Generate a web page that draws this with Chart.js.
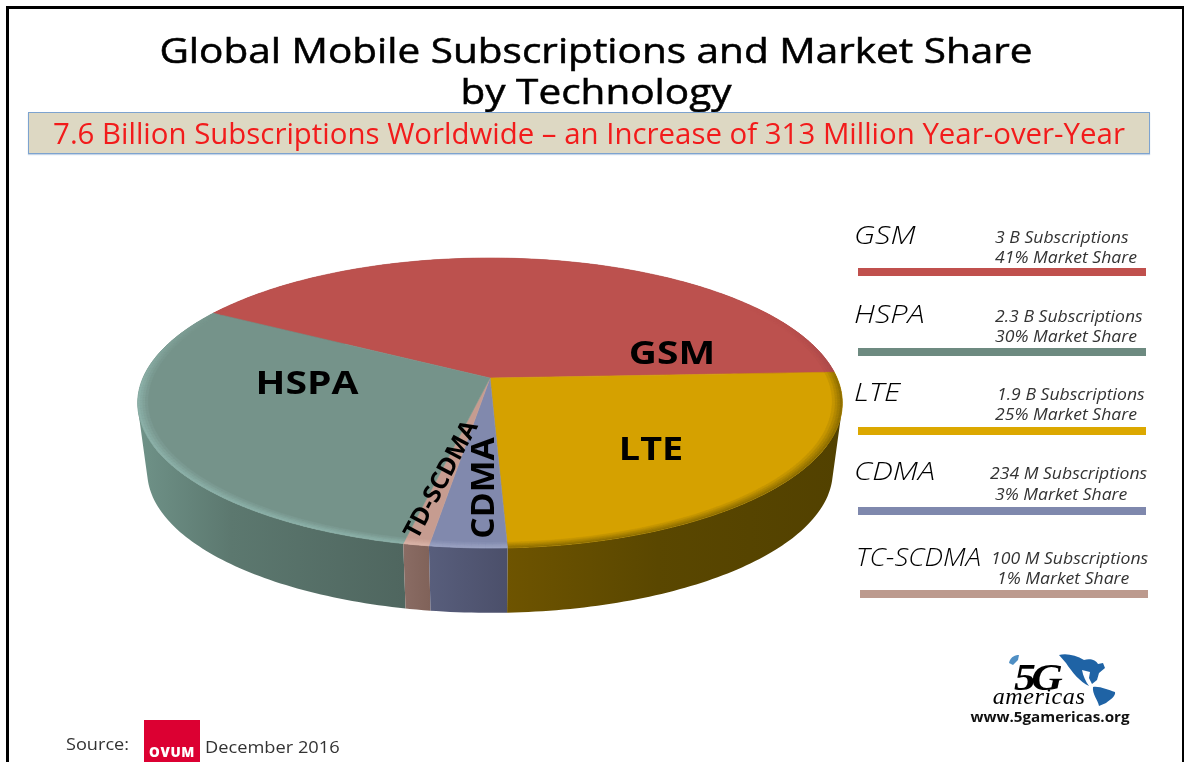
<!DOCTYPE html>
<html><head><meta charset="utf-8">
<script src="https://cdn.jsdelivr.net/npm/chart.js@4/dist/chart.umd.js"></script>
<style>
html,body{margin:0;padding:0;background:#fff;width:1184px;height:762px;overflow:hidden}
#stage{position:relative;width:1184px;height:762px;overflow:hidden;font-family:"Open Sans",sans-serif;color:#000;filter:blur(0.4px)}
#stage canvas{position:absolute;left:0;top:0}
.t{position:absolute;white-space:nowrap;line-height:1}
.frame{position:absolute;background:#000}
.bar{position:absolute}
</style></head><body>
<div id="stage"><canvas id="c" width="1184" height="762"></canvas></div>
<script>
// ---- data (pie order, clockwise from the GSM edge) ----
const categories = ['GSM','LTE','CDMA','TD-SCDMA','HSPA'];
const marketShare = [41,25,3,1,30];
// legend order
const legendNames = ['GSM','HSPA','LTE','CDMA','TC-SCDMA'];
const subscriptionLabels = ['3 B Subscriptions','2.3 B Subscriptions','1.9 B Subscriptions','234 M Subscriptions','100 M Subscriptions'];
const shareLabels = ['41% Market Share','30% Market Share','25% Market Share','3% Market Share','1% Market Share'];
const titleLines = ['Global Mobile Subscriptions and Market Share','by Technology'];
const subtitle = '7.6 Billion Subscriptions Worldwide \u2013 an Increase of 313 Million Year-over-Year';

// ---- styles ----
const topColors = ['#bc514e','#d5a100','#8189ad','#c69c90','#75938a'];
const barColors = ['#c0504d','#6d8a80','#dca800','#7f88ad','#bc9a8e'];
const sideStops = [
  [[0,'#7a3432'],[1,'#7a3432']],
  [[0,'#6e5400'],[0.45,'#5a4700'],[1,'#524100']],
  [[0,'#585e7c'],[1,'#4b4f6a']],
  [[0,'#8a6c64'],[1,'#806259']],
  [[0,'#6f9288'],[0.35,'#5c786f'],[1,'#4f665f']]
];
const rimColors = ['#a8494a','#8f6f00','#9aa2c2','#d8b2a6','#8cb0a8'];
const FLAT=0.4055, K=0.1724, DEPTH_DY=0.2, DEPTH_SCALE=0.973;

function rgb(h){return [1,3,5].map(i=>parseInt(h.substr(i,2),16));}
function mix(a,b,t){const p=rgb(a),q=rgb(b);return 'rgb('+p.map((v,i)=>Math.round(v+(q[i]-v)*t)).join(',')+')';}

// perspective projection of the library's own arc geometry
function proj(arc,ang,r,lower){
  const R=arc.outerRadius,u=r*Math.cos(ang),v=r*Math.sin(ang),w=1-K*v;
  const s=lower?DEPTH_SCALE:1,oy=lower?DEPTH_DY*R:0;
  return [arc.x+s*R*u/w, arc.y+oy+s*R*FLAT*v/w];
}
function poly(ctx,pts,color,lw){
  ctx.beginPath();pts.forEach((p,i)=>i?ctx.lineTo(p[0],p[1]):ctx.moveTo(p[0],p[1]));ctx.closePath();
  ctx.fillStyle=color;ctx.strokeStyle=color;ctx.lineWidth=lw==null?0.6:lw;ctx.fill();ctx.stroke();
}
function area(p){let s=0;p.forEach((a,i)=>{const b=p[(i+1)%p.length];s+=a[0]*b[1]-b[0]*a[1];});return s;}
const pie3d={id:'pie3d',
  beforeDatasetDraw(chart){
    const ctx=chart.ctx,arcs=chart.getDatasetMeta(0).data,step=Math.PI/180;
    ctx.save();
    // side walls, back to front; each wall is the sweep of the rim between top and bottom
    const order=arcs.map((arc,i)=>({arc,i,y:Math.sin((arc.startAngle+arc.endAngle)/2)})).sort((p,q)=>p.y-q.y);
    order.forEach(({arc,i})=>{
      ctx.beginPath();
      let x0=1e9,x1=-1e9;
      for(let a=arc.startAngle;a<arc.endAngle-1e-6;a+=step){
        const b=Math.min(a+step,arc.endAngle);
        let q=[proj(arc,a,1,false),proj(arc,b,1,false),proj(arc,b,1,true),proj(arc,a,1,true)];
        if(area(q)<0)q=q.reverse();
        q.forEach((p,n)=>{n?ctx.lineTo(p[0],p[1]):ctx.moveTo(p[0],p[1]);x0=Math.min(x0,p[0]);x1=Math.max(x1,p[0]);});
        ctx.closePath();
      }
      const g=ctx.createLinearGradient(x0,0,x1,0);
      sideStops[i].forEach(s=>g.addColorStop(s[0],s[1]));
      ctx.fillStyle=g;ctx.fill('nonzero');
    });
    // top faces
    arcs.forEach((arc,i)=>{
      const pts=[[arc.x,arc.y]];
      for(let a=arc.startAngle;a<arc.endAngle;a+=step)pts.push(proj(arc,a,1,false));
      pts.push(proj(arc,arc.endAngle,1,false));
      poly(ctx,pts,arc.options.backgroundColor);
    });
    // bevel along the visible rim
    const rings=[0.972,0.98,0.987,0.994,1.0];
    arcs.forEach((arc,i)=>{
      for(let a=arc.startAngle;a<arc.endAngle-1e-6;a+=step){
        const b=Math.min(a+step,arc.endAngle),sn=Math.sin((a+b)/2);
        const w=Math.max(0,Math.min(1,(sn+0.55)/0.6));
        if(w<=0)continue;
        for(let k=0;k<4;k++){
          const c=mix(topColors[i],rimColors[i],w*(k+1)/4);
          poly(ctx,[proj(arc,a,rings[k],false),proj(arc,b,rings[k],false),proj(arc,b,rings[k+1],false),proj(arc,a,rings[k+1],false)],c,0.4);
        }
      }
    });
    ctx.restore();
    return false;
  }
};
new Chart(document.getElementById('c'),{
  type:'pie',
  data:{labels:categories,datasets:[{data:marketShare,backgroundColor:topColors,borderWidth:0}]},
  options:{responsive:false,animation:false,rotation:-60,
    layout:{padding:{left:143,right:347,top:31,bottom:37}},
    plugins:{legend:{display:false},tooltip:{enabled:false},title:{display:false}}},
  plugins:[pie3d]
});

// ---- text and furniture ----
const st=document.getElementById('stage');
function el(cls,css,text){const d=document.createElement('div');d.className=cls;d.style.cssText=css;if(text!=null)d.textContent=text;st.appendChild(d);return d;}
function text(s,x,y,css,align,sx){
  const c=align==='c',extra=sx?` scaleX(${sx})`:'';
  const tr=(c?'translate(-50%,-50%)':'translateY(-50%)')+extra;
  return el('t',`left:${x}px;top:${y}px;transform-origin:${c?'center':'left'} center;transform:${tr};${css}`,s);
}
el('frame','left:6px;top:6px;width:1178px;height:3px');
el('frame','left:6px;top:6px;width:3px;height:756px');
el('frame','left:1182px;top:6px;width:2px;height:756px');
const ttl='font-size:35.5px;font-weight:400;-webkit-text-stroke:.55px #000';
text(titleLines[0],596,50,ttl,'c',1.141);
text(titleLines[1],596,91,ttl,'c',1.141);
el('x','position:absolute;left:28px;top:112px;width:1120px;height:40px;background:#ddd8c3;border:1px solid #7da3cf;box-shadow:0 1px 1px #c5d5e8');
text(subtitle,589,133,'font-size:28.5px;color:#f21b1b','c',1.032);

// slice labels
const lab='font-size:33px;font-weight:700';
text(categories[0],672,351,lab,'c',1.18);
text(categories[4],307,381,lab,'c',1.185);
text(categories[1],651,447,lab,'c',1.145);
text(categories[2],481,488,'font-size:33px;font-weight:700;transform:translate(-50%,-50%) rotate(-90deg) scaleX(1.02)','c');
text(categories[3],440,479,'font-size:24.5px;font-weight:700;transform:translate(-50%,-50%) rotate(-62deg) scaleX(1.02)','c');

// legend
const nameY=[234,313,391,470,556],nameX=[854,854,854,854,856],nameSX=[1.18,1.18,1.18,1.18,1.06];
const subX=[995,995,997,990,991],subY=[237,316,394,473,558];
const shX=[995,995,995,995,997],shY=[257,336,414,494,578];
const barY=[268,348,427,507,590],barX=[858,858,858,858,860];
const lg='font-style:italic;';
legendNames.forEach((n,i)=>{
  text(n,nameX[i],nameY[i],lg+'font-size:26px;font-weight:300;color:#000',null,nameSX[i]);
  text(subscriptionLabels[i],subX[i],subY[i],lg+'font-size:16px;color:#333',null,1.1);
  text(shareLabels[i],shX[i],shY[i],lg+'font-size:16px;color:#333',null,1.1);
  el('bar',`left:${barX[i]}px;top:${barY[i]}px;width:288px;height:8px;background:${barColors[i]}`);
});

// source line
text('Source:',66,745,'font-size:15.5px;color:#333',null,1.17);
el('x','position:absolute;left:144px;top:720px;width:56px;height:42px;background:#dc0032');
text('OVUM',172,753,'font-size:13.5px;font-weight:800;color:#fff;letter-spacing:.6px','c');
text('December 2016',205,747,'font-size:16px;color:#333',null,1.14);

// logo
const ns='http://www.w3.org/2000/svg';
const wrap=document.createElement('div');
wrap.style.cssText='position:absolute;left:0;top:0;width:1184px;height:762px;pointer-events:none';
wrap.innerHTML=`<svg xmlns="${ns}" width="1184" height="762" style="position:absolute;left:0;top:0">
<path d="M1059 655 C1066 653 1076 655 1084 660 C1090 658 1096 660 1098 664 L1103 663 L1105 668 L1099 673 L1097 680 L1092 684 L1089 678 L1090 672 L1082 670 C1083 676 1086 682 1089 686 C1080 682 1072 672 1066 663 Z" fill="#1f63a5"/>
<path d="M1093 687 C1100 686 1108 690 1115 692 C1116 696 1110 700 1106 703 L1099 706 C1098 700 1092 694 1093 687 Z" fill="#1f63a5"/>
<path d="M1009 663 C1010 658 1014 655 1019 655 L1018 660 L1013 665 Z" fill="#4f8fc4"/>
</svg>`;
st.appendChild(wrap);
text('5G',1036,677,'font-family:\'Liberation Serif\',serif;font-size:38px;font-weight:700;font-style:italic;letter-spacing:-4px','c',1.15);
text('americas',1039,696,'font-family:\'Liberation Serif\',serif;font-size:23px;font-style:italic;letter-spacing:.5px','c',1.05);
text('www.5gamericas.org',1050,718,'font-size:13.5px;font-weight:700;color:#111','c',1.127);
</script>
</body></html>
